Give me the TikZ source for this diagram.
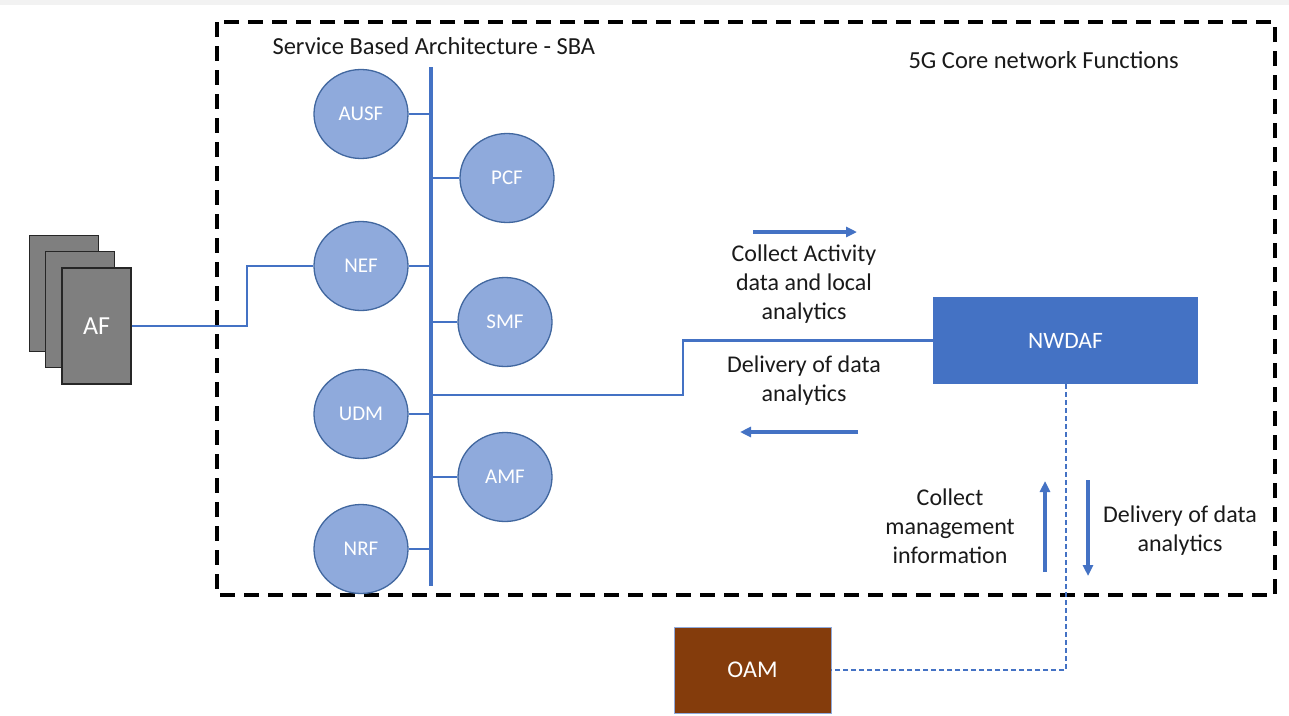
\documentclass[tikz,border=0pt]{standalone}
\usepackage{fontspec}
\setmainfont{Carlito}
\usetikzlibrary{shapes.geometric,arrows.meta,calc}
\definecolor{nfFill}{HTML}{8FAADC}
\definecolor{nfLine}{HTML}{41679F}
\definecolor{linkBlue}{HTML}{4472C4}
\definecolor{afGray}{HTML}{7F7F7F}
\definecolor{oamBrown}{HTML}{843C0C}
\definecolor{txt}{HTML}{1A1A1A}
\tikzset{
  nf/.style={ellipse, draw=nfLine, line width=1.3pt, fill=nfFill,
    minimum width=94pt, minimum height=89pt, inner sep=0pt,
    text=white, font=\fontsize{21}{21}\selectfont},
  afbox/.style={draw=black!85, line width=1.3pt, fill=afGray,
    minimum width=69pt, minimum height=116pt, inner sep=0pt},
  link/.style={draw=linkBlue, line width=2.2pt},
  flow/.style={draw=linkBlue, line width=3.2pt,
    -{Triangle[length=11pt,width=10pt]}},
  lbl/.style={text=txt, align=center, font=\fontsize{24}{29}\selectfont},
  title/.style={text=txt, anchor=west, font=\fontsize{24.5}{24.5}\selectfont},
}
\begin{document}
\begin{tikzpicture}[x=1pt,y=-1pt]
\useasboundingbox (0,0) rectangle (1289,715);
\fill[white] (0,0) rectangle (1289,715);
\fill[black!5] (0,0) rectangle (1289,5);

% 5G core boundary
\draw[black, line width=4pt, dash pattern=on 15pt off 9pt] (217,22) rectangle (1275,595);
\node[title] (sbaTitle) at (269,46) {Service Based Architecture - SBA};
\node[title] (coreTitle) at (905,60) {5G Core network Functions};

% service bus
\coordinate (busTop) at (431,67);
\coordinate (busBot) at (431,586);
\draw[linkBlue, line width=4pt] (busTop) -- (busBot);

% network functions
\node[nf] (ausf) at (361,114) {AUSF};
\node[nf] (pcf)  at (507,178) {PCF};
\node[nf] (nef)  at (361,266) {NEF};
\node[nf] (smf)  at (505,322) {SMF};
\node[nf] (udm)  at (361,414) {UDM};
\node[nf] (amf)  at (505,477) {AMF};
\node[nf] (nrf)  at (361,549) {NRF};

\foreach \n in {ausf,nef,udm,nrf}
  \draw[link] (\n.east) -- (\n.east -| busTop);
\foreach \n in {pcf,smf,amf}
  \draw[link] (\n.west) -- (\n.west -| busTop);

% application functions
\node[afbox] (af3) at (64,293.5) {};
\node[afbox] (af2) at (80,309.5) {};
\node[afbox, text=white, font=\fontsize{26}{26}\selectfont] (af) at (96.5,326) {AF};
\coordinate (afBend) at (247,300);
\draw[link] (af.east) -- (af.east -| afBend) |- (nef.west);

% NWDAF
\node[fill=linkBlue, minimum width=265pt, minimum height=87pt, inner sep=0pt,
  text=white, font=\fontsize{23.5}{23.5}\selectfont] (nwdaf) at (1065.5,340.5) {NWDAF};
\coordinate (udmTap) at (431,395);
\coordinate (nwBend) at (683,395);
\draw[link] (udmTap) -- (nwBend) |- (nwdaf.west);

\coordinate (flowA) at (753,232);
\coordinate (flowB) at (857,232);
\draw[flow] (flowA) -- (flowB);
\coordinate (flowC) at (858,432);
\coordinate (flowD) at (740,432);
\draw[flow] (flowC) -- (flowD);
\node[lbl] (collectAct) at (804,284) {Collect Activity\\data and local\\analytics};
\node[lbl] (deliverAna) at (804,380.5) {Delivery of data\\analytics};

% OAM
\node[fill=oamBrown, draw=linkBlue!60, line width=0.8pt, minimum width=157pt, minimum height=86pt,
  inner sep=0pt, text=white, font=\fontsize{24}{24}\selectfont] (oam) at (752.5,670) {OAM};
\coordinate (oamDrop) at (1066,384);
\draw[linkBlue, line width=1.6pt, dash pattern=on 5pt off 3pt]
  (oamDrop) -- (oamDrop |- oam.east) -- (oam.east);

\coordinate (upA) at (1045,572);
\coordinate (upB) at (1045,481);
\draw[flow] (upA) -- (upB);
\coordinate (dnA) at (1088,480);
\coordinate (dnB) at (1088,576);
\draw[flow] (dnA) -- (dnB);
\node[lbl] (collectMgmt) at (950,526) {Collect\\management\\information};
\node[lbl] (deliverMgmt) at (1180,531) {Delivery of data\\analytics};
\end{tikzpicture}
\end{document}
